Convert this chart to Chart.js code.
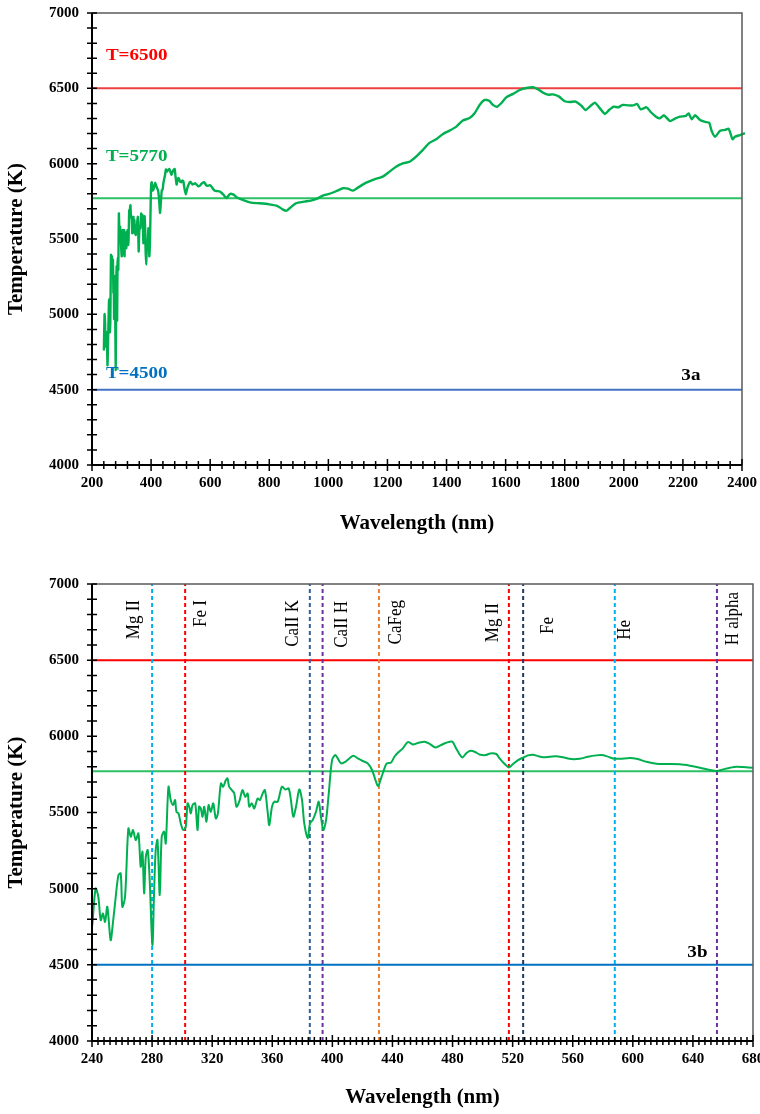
<!DOCTYPE html>
<html>
<head>
<meta charset="utf-8">
<script src="https://cdn.jsdelivr.net/npm/chart.js@4.4.1/dist/chart.umd.min.js"></script>
<style>
    html, body { margin: 0; padding: 0; background: #fff; }
    #wrapA { position: absolute; left: 0; top: 0; width: 760px; height: 540px; }
    #wrapB { position: absolute; left: 0; top: 555px; width: 760px; height: 559px; }
</style>
</head>
<body>
<div id="wrapA"><canvas id="chartA" width="760" height="540"></canvas></div>
<div id="wrapB"><canvas id="chartB" width="760" height="559"></canvas></div>
<script>
// colour temperature along the spectrum, fine run 240-680 nm
var wlFine = [240.2, 242.4, 244.2, 245.8, 247.3, 248.7, 250.2, 252.4, 254, 255.8, 257.6, 259.1, 260.2, 262,
    264.2, 265.8, 267.3, 269.1, 270.9, 272.4, 273.6, 274.7, 275.8, 277.1, 278.4, 280.2, 281.3, 282.4, 283.6,
    285.1, 286.4, 288, 289.1, 290.9, 292.4, 294, 295.3, 296.2, 297.6, 299.1, 300.7, 302.4, 303.6, 304.7, 305.8,
    306.9, 308.7, 310.2, 311.3, 312.4, 313.6, 314.7, 316.2, 317.6, 319.1, 320.7, 322.4, 323.8, 325.8, 327.3,
    329.1, 330.2, 331.3, 333.1, 334.7, 336.2, 338, 340.2, 342, 343.6, 344.7, 346.4, 348, 350.2, 351.8, 353.6,
    355.1, 356.9, 358, 359.8, 361.3, 363.6, 366.4, 368.7, 370.9, 372.4, 374, 375.8, 378, 379.8, 381.3, 383.6,
    385.1, 386.9, 389.1, 390.9, 392.4, 394, 395.8, 397.6, 399.8, 402, 403.6, 405.8, 408.7, 411.3, 414, 416.9,
    420.2, 423.6, 426.4, 428.7, 430.4, 432.4, 434.7, 436.2, 439.1, 441.3, 443.6, 446.9, 450.2, 453.6, 456.9,
    461.3, 464.7, 468.7, 472.4, 475.8, 479.8, 482.4, 486.4, 489.1, 491.8, 494.7, 498, 502, 505.1, 509.1, 511.3,
    514.7, 517.6, 520.2, 523.6, 527.3, 530.2, 533.6, 536.9, 540.2, 544.7, 549.1, 553.6, 559.1, 564.7, 570.2,
    575.8, 579.1, 582.4, 586.9, 591.3, 598, 602.4, 609.1, 615.8, 622.4, 631.3, 638, 644.7, 651.3, 655.8, 660.2,
    664.7, 669.1, 673.6, 680];
var tFine = [4760, 5001, 4947, 4793, 4837, 4782, 4881, 4662, 4782, 4947, 5089, 5100, 4881, 4947,
    5395, 5341, 5385, 5319, 5363, 5144, 5242, 4969, 5209, 5253, 5056, 4630, 4969, 5253, 5319,
    4958, 5341, 5374, 5297, 5669, 5582, 5549, 5582, 5505, 5494, 5428, 5385, 5406, 5560, 5538, 5494,
    5549, 5560, 5385, 5538, 5527, 5472, 5538, 5439, 5549, 5505, 5560, 5461, 5494, 5691, 5669,
    5713, 5724, 5669, 5647, 5625, 5538, 5571, 5647, 5603, 5625, 5538, 5560, 5527, 5592, 5582, 5625,
    5647, 5505, 5417, 5538, 5571, 5571, 5669, 5651, 5658, 5582, 5472, 5538, 5651, 5582, 5428, 5330,
    5428, 5450, 5505, 5571, 5472, 5385, 5450, 5625, 5844, 5877, 5855, 5822, 5833, 5855, 5873, 5855,
    5838, 5822, 5779, 5713, 5673, 5724, 5790, 5822, 5829, 5866, 5892, 5921, 5962, 5947, 5956,
    5965, 5951, 5927, 5943, 5958, 5965, 5921, 5862, 5888, 5905, 5899, 5881, 5877, 5888, 5884, 5855,
    5818, 5796, 5818, 5844, 5862, 5875, 5879, 5870, 5862, 5866, 5870, 5862, 5851, 5853, 5866,
    5875, 5877, 5870, 5855, 5853, 5857, 5853, 5833, 5820, 5818, 5816, 5807, 5794, 5779, 5772, 5783,
    5794, 5801, 5798, 5794];

// coarse run above 680 nm
var wlWide = [687, 710, 738, 766, 800, 828, 845, 859, 873, 890, 919, 941, 964, 981, 1003, 1026, 1049, 1066,
    1083, 1100, 1128, 1156, 1184, 1207, 1229, 1252, 1275, 1297, 1320, 1342, 1365, 1388, 1410, 1433, 1455, 1478,
    1495, 1512, 1529, 1544, 1557, 1571, 1585, 1602, 1625, 1648, 1670, 1693, 1710, 1727, 1744, 1761, 1781, 1800,
    1817, 1837, 1857, 1871, 1887, 1902, 1919, 1936, 1950, 1966, 1981, 1996, 2015, 2032, 2045, 2057, 2077, 2091,
    2109, 2122, 2136, 2156, 2173, 2190, 2210, 2219, 2230, 2241, 2258, 2275, 2289, 2297, 2309, 2326, 2343, 2354,
    2359, 2368, 2376, 2393, 2410];
var tWide = [5781, 5759, 5741, 5737, 5730, 5719, 5697, 5688, 5711, 5737, 5748, 5755, 5770, 5788, 5799, 5817, 5837, 5834,
    5821, 5841, 5874, 5896, 5914, 5947, 5980, 6002, 6013, 6047, 6091, 6138, 6162, 6197, 6219, 6246, 6286, 6303,
    6334, 6390, 6423, 6418, 6390, 6378, 6401, 6440, 6463, 6489, 6502, 6507, 6493, 6471, 6458, 6460, 6445, 6414,
    6409, 6412, 6383, 6356, 6383, 6405, 6367, 6330, 6356, 6378, 6374, 6390, 6387, 6387, 6396, 6361, 6374, 6343,
    6312, 6301, 6321, 6283, 6299, 6312, 6317, 6334, 6294, 6321, 6290, 6277, 6272, 6219, 6179, 6219, 6224, 6232,
    6213, 6162, 6179, 6190, 6202];

// reference temperatures
var refTemps = [6500, 5770, 4500];
var refNames = ['T=6500', 'T=5770', 'T=4500'];

// spectral lines marked on the zoomed panel
var lineWl = [280, 302, 385, 393.5, 431, 517.5, 527, 588, 656];
var lineNames = ['Mg II', 'Fe I', 'CaII K', 'CaII H', 'CaFeg', 'Mg II', 'Fe', 'He', 'H alpha'];

// axis ranges [min, max, label step]
var xRangeA = [200, 2400, 200];
var xRangeB = [240, 680, 40];
var yRange = [4000, 7000, 500];

/////////////////////////////////////////////////////////////////

var SERIF = "'Liberation Serif', 'Times New Roman', serif";

function pts(xs, ys) {
    var out = [];
    for (var i = 0; i < xs.length; i++) out.push({ x: xs[i], y: ys[i] });
    return out;
}

// box round the plot plus ticks that cross the axis lines
var frameTicks = {
    id: 'frameTicks',
    afterDatasetsDraw: function (chart, args, opts) {
        var ctx = chart.ctx, a = chart.chartArea;
        var xs = chart.scales.x, ys = chart.scales.y;
        ctx.save();
        ctx.strokeStyle = '#595959';
        ctx.lineWidth = 1.5;
        ctx.beginPath();
        ctx.moveTo(a.left, a.top); ctx.lineTo(a.right, a.top); ctx.lineTo(a.right, a.bottom);
        ctx.stroke();
        ctx.strokeStyle = '#000';
        ctx.lineWidth = 2;
        ctx.beginPath();
        ctx.moveTo(a.left, a.top); ctx.lineTo(a.left, a.bottom); ctx.lineTo(a.right, a.bottom);
        ctx.stroke();
        ctx.lineWidth = 1.5;
        ctx.beginPath();
        var ny = Math.round((ys.max - ys.min) / opts.yMinor);
        for (var i = 0; i <= ny; i++) {
            var py = ys.getPixelForValue(ys.min + i * opts.yMinor);
            ctx.moveTo(a.left - 5, py); ctx.lineTo(a.left + 5, py);
        }
        var nx = Math.round((xs.max - xs.min) / opts.xMinor);
        var per = Math.round(opts.xMajor / opts.xMinor);
        for (var j = 0; j <= nx; j++) {
            var px = xs.getPixelForValue(xs.min + j * opts.xMinor);
            var len = (j % per === 0) ? 6 : 4;
            ctx.moveTo(px, a.bottom - len); ctx.lineTo(px, a.bottom + len);
        }
        ctx.stroke();
        ctx.restore();
    }
};

// free text placed at data coordinates (optionally rotated)
var textMarks = {
    id: 'textMarks',
    afterDraw: function (chart, args, opts) {
        var ctx = chart.ctx, xs = chart.scales.x, ys = chart.scales.y, a = chart.chartArea;
        ctx.save();
        (opts.items || []).forEach(function (it) {
            ctx.font = it.font;
            ctx.fillStyle = it.color;
            var px = xs.getPixelForValue(it.x) + (it.dx || 0);
            ctx.save();
            if (it.rotate) {
                ctx.translate(px, a.top + it.top);
                ctx.scale(it.sx || 1, 1);
                ctx.rotate(-Math.PI / 2);
                ctx.textAlign = 'right';
            } else {
                ctx.translate(px, ys.getPixelForValue(it.y));
                ctx.scale(it.sx || 1, 1);
                ctx.textAlign = it.align || 'left';
            }
            ctx.textBaseline = 'middle';
            ctx.fillText(it.text, 0, 0);
            ctx.restore();
        });
        ctx.restore();
    }
};

function plainNum(v) { return String(v); }

function scalesFor(xr, xHeight) {
    var tickFont = { family: SERIF, weight: 'bold', size: 15 };
    var titleFont = { family: SERIF, weight: 'bold', size: 21 };
    return {
        x: {
            type: 'linear', min: xr[0], max: xr[1],
            ticks: { stepSize: xr[2], font: tickFont, color: '#000', padding: 9, maxRotation: 0, autoSkip: false, callback: plainNum },
            grid: { display: false, drawTicks: false },
            border: { display: false },
            title: { display: true, text: 'Wavelength (nm)', font: titleFont, color: '#000', padding: { top: 4, bottom: 4 } },
            afterFit: function (s) { s.height = xHeight; s.paddingLeft = 0; s.paddingRight = 0; }
        },
        y: {
            type: 'linear', min: yRange[0], max: yRange[1],
            ticks: { stepSize: yRange[2], font: tickFont, color: '#000', padding: 13, callback: plainNum },
            grid: { display: false, drawTicks: false },
            border: { display: false },
            title: { display: true, text: 'Temperature (K)', font: titleFont, color: '#000', padding: { top: 4, bottom: 4 } },
            afterFit: function (s) { s.width = 92; s.paddingTop = 0; s.paddingBottom = 0; }
        }
    };
}

function refSets(xr, colors, width) {
    return refTemps.map(function (t, i) {
        return {
            data: [{ x: xr[0], y: t }, { x: xr[1], y: t }],
            borderColor: colors[i], borderWidth: width, pointRadius: 0, order: 3
        };
    });
}

/////////////////////////////////////////////////////////////////
// 3a : full range

var refColorsA = ['#ee4040', '#2cc066', '#4472c4'];
var labelFont = 'bold 17px ' + SERIF;
var itemsA = [
    { text: refNames[0], x: 247, y: 6720, color: '#ff0000', font: labelFont, sx: 1.12 },
    { text: refNames[1], x: 247, y: 6050, color: '#00b050', font: labelFont, sx: 1.12 },
    { text: refNames[2], x: 247, y: 4605, color: '#0070c0', font: labelFont, sx: 1.12 },
    { text: '3a', x: 2227, y: 4591, color: '#000', font: labelFont, align: 'center', sx: 1.12 }
];

new Chart(document.getElementById('chartA'), {
    type: 'line',
    data: {
        datasets: [{
            data: pts(wlFine.concat(wlWide), tFine.concat(tWide)),
            borderColor: '#00b050', borderWidth: 2.4, pointRadius: 0, tension: 0.2, clip: 6, order: 0
        }].concat(refSets(xRangeA, refColorsA, 2))
    },
    options: {
        responsive: false, animation: false,
        layout: { padding: { left: 0, top: 13, right: 18, bottom: 0 } },
        plugins: {
            legend: { display: false }, tooltip: { enabled: false },
            frameTicks: { yMinor: 100, xMinor: 40, xMajor: 200 },
            textMarks: { items: itemsA }
        },
        scales: scalesFor(xRangeA, 75)
    },
    plugins: [frameTicks, textMarks]
});

/////////////////////////////////////////////////////////////////
// 3b : 240-680 nm with line markers

var refColorsB = ['#ff0000', '#2cc066', '#0070c0'];
var lineColors = ['#00b0f0', '#ff0000', '#2f5f9e', '#7030a0', '#ed7d31', '#ff0000', '#203864', '#00b0f0', '#7030a0'];
// offset of each label from its line, and its top below the plot edge
var lineDx = [-18, 16, -17, 19, 17, -16, 25, 10, 16];
var lineTop = [16, 16, 16, 17, 16, 19, 33, 36, 8];

var itemsB = lineNames.map(function (n, i) {
    return { text: n, x: lineWl[i], dx: lineDx[i], top: lineTop[i], rotate: true, sx: 1.15, color: '#000', font: '17px ' + SERIF };
});
itemsB.push({ text: '3b', x: 643, y: 4577, color: '#000', font: labelFont, align: 'center', sx: 1.12 });

var markerSets = lineWl.map(function (w, i) {
    return {
        data: [{ x: w, y: yRange[0] }, { x: w, y: yRange[1] }],
        borderColor: lineColors[i], borderWidth: 2, borderDash: [4, 3], pointRadius: 0, order: 2
    };
});

new Chart(document.getElementById('chartB'), {
    type: 'line',
    data: {
        datasets: [{
            data: pts(wlFine, tFine),
            borderColor: '#00b050', borderWidth: 2, pointRadius: 0, tension: 0.3, order: 0
        }].concat(markerSets, refSets(xRangeB, refColorsB, 2))
    },
    options: {
        responsive: false, animation: false,
        layout: { padding: { left: 0, top: 29, right: 7, bottom: 0 } },
        plugins: {
            legend: { display: false }, tooltip: { enabled: false },
            frameTicks: { yMinor: 100, xMinor: 4, xMajor: 40 },
            textMarks: { items: itemsB }
        },
        scales: scalesFor(xRangeB, 73)
    },
    plugins: [frameTicks, textMarks]
});
</script>
</body>
</html>
